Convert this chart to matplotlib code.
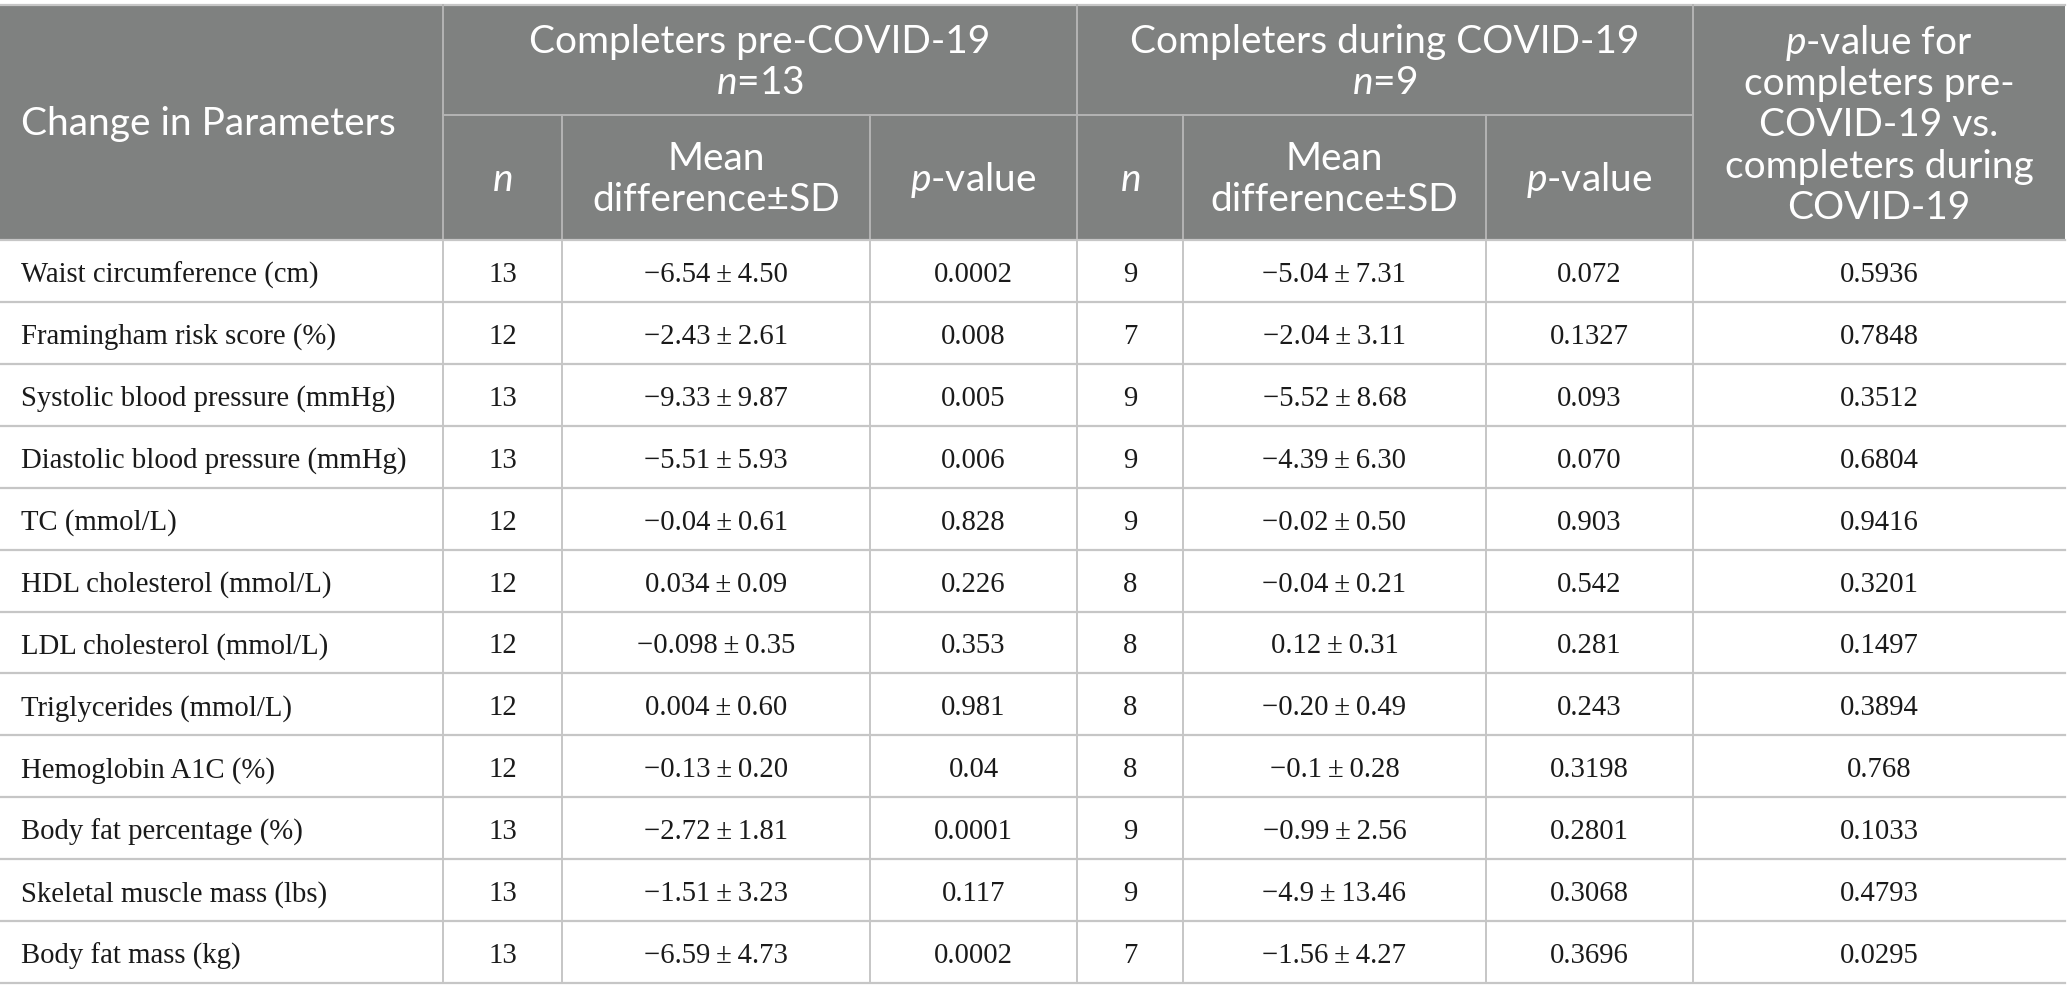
import matplotlib
matplotlib.use("Agg")
import matplotlib.pyplot as plt
from matplotlib.patches import Rectangle

params = ["Waist circumference (cm)", "Framingham risk score (%)",
          "Systolic blood pressure (mmHg)", "Diastolic blood pressure (mmHg)",
          "TC (mmol/L)", "HDL cholesterol (mmol/L)", "LDL cholesterol (mmol/L)",
          "Triglycerides (mmol/L)", "Hemoglobin A1C (%)", "Body fat percentage (%)",
          "Skeletal muscle mass (lbs)", "Body fat mass (kg)"]
pre_n = ["13", "12", "13", "13", "12", "12", "12", "12", "12", "13", "13", "13"]
pre_mean = ["−6.54", "−2.43", "−9.33", "−5.51", "−0.04", "0.034", "−0.098", "0.004",
            "−0.13", "−2.72", "−1.51", "−6.59"]
pre_sd = ["4.50", "2.61", "9.87", "5.93", "0.61", "0.09", "0.35", "0.60", "0.20",
          "1.81", "3.23", "4.73"]
pre_p = ["0.0002", "0.008", "0.005", "0.006", "0.828", "0.226", "0.353", "0.981",
         "0.04", "0.0001", "0.117", "0.0002"]
dur_n = ["9", "7", "9", "9", "9", "8", "8", "8", "8", "9", "9", "7"]
dur_mean = ["−5.04", "−2.04", "−5.52", "−4.39", "−0.02", "−0.04", "0.12", "−0.20",
            "−0.1", "−0.99", "−4.9", "−1.56"]
dur_sd = ["7.31", "3.11", "8.68", "6.30", "0.50", "0.21", "0.31", "0.49", "0.28",
          "2.56", "13.46", "4.27"]
dur_p = ["0.072", "0.1327", "0.093", "0.070", "0.903", "0.542", "0.281", "0.243",
         "0.3198", "0.2801", "0.3068", "0.3696"]
p_between = ["0.5936", "0.7848", "0.3512", "0.6804", "0.9416", "0.3201", "0.1497",
             "0.3894", "0.768", "0.1033", "0.4793", "0.0295"]

W, H = 2067, 1002
plt.rcParams["mathtext.fontset"] = "custom"
plt.rcParams["mathtext.it"] = "Lato:italic"
plt.rcParams["mathtext.rm"] = "Lato"

fig = plt.figure(figsize=(W / 100, H / 100), dpi=100)
ax = fig.add_axes([0, 0, 1, 1])
ax.set_xlim(0, W)
ax.set_ylim(H, 0)
ax.axis("off")

cols = [0, 443, 562, 870, 1077, 1183, 1486, 1693, 2065]
top, mid, hb = 5, 115, 240
row_h = (983 - hb) / len(params)
grey = "#7f8180"
line_c = "#c6c6c6"
hfont = dict(family=["Lato", "DejaVu Sans"], size=28, color="white")
bfont = dict(family=["Liberation Serif", "DejaVu Serif"], size=20.7, color="#1a1a1a")

ax.add_patch(Rectangle((cols[0], top), cols[-1] - cols[0], hb - top,
                       facecolor=grey, edgecolor="none"))
ax.plot([cols[0], cols[-1]], [top, top], color=line_c, lw=1.6)

# header texts
ax.text(21, 124, "Change in Parameters", ha="left", va="center", **hfont)
for (c0, c1, title, nn) in [(1, 4, "Completers pre-COVID-19", "13"),
                            (4, 7, "Completers during COVID-19", "9")]:
    xc = (cols[c0] + cols[c1]) / 2
    ax.text(xc, 42, title, ha="center", va="center", **hfont)
    ax.text(xc, 83, "$n$=" + nn, ha="center", va="center", **hfont)
for c in (1, 4):
    ax.text((cols[c] + cols[c + 1]) / 2, 180, "$n$", ha="center", va="center", **hfont)
    xc = (cols[c + 1] + cols[c + 2]) / 2
    ax.text(xc, 159, "Mean", ha="center", va="center", **hfont)
    ax.text(xc, 200, "difference±SD", ha="center", va="center", **hfont)
    ax.text((cols[c + 2] + cols[c + 3]) / 2, 180, "$p$-value", ha="center", va="center", **hfont)
last_lines = ["$p$-value for", "completers pre-", "COVID-19 vs.",
              "completers during", "COVID-19"]
xl = (cols[7] + cols[8]) / 2
for i, t in enumerate(last_lines):
    ax.text(xl, 43 + i * 41.2, t, ha="center", va="center", **hfont)

# header grid
hl = "#b4b4b4"
for x in (cols[1], cols[4], cols[7]):
    ax.plot([x, x], [top, hb], color=hl, lw=1.4)
for x in (cols[2], cols[3], cols[5], cols[6]):
    ax.plot([x, x], [mid, hb], color=hl, lw=1.4)
ax.plot([cols[1], cols[7]], [mid, mid], color=hl, lw=1.4)

# body
for i in range(len(params)):
    yc = hb + (i + 0.5) * row_h
    vals = [pre_n[i], pre_mean[i] + "\u2009±\u2009" + pre_sd[i], pre_p[i],
            dur_n[i], dur_mean[i] + "\u2009±\u2009" + dur_sd[i], dur_p[i], p_between[i]]
    ax.text(21, yc + 4, params[i], ha="left", va="center", **bfont)
    for j, v in enumerate(vals):
        ax.text((cols[j + 1] + cols[j + 2]) / 2, yc + 4, v, ha="center", va="center", **bfont)
    yb = hb + (i + 1) * row_h
    ax.plot([cols[0], cols[-1]], [yb, yb], color=line_c, lw=1.6)
ax.plot([cols[0], cols[-1]], [hb, hb], color=line_c, lw=1.6)
for x in cols[1:-1]:
    ax.plot([x, x], [hb, 983], color=line_c, lw=1.4)

fig.savefig("out.png", dpi=100, facecolor="white")
